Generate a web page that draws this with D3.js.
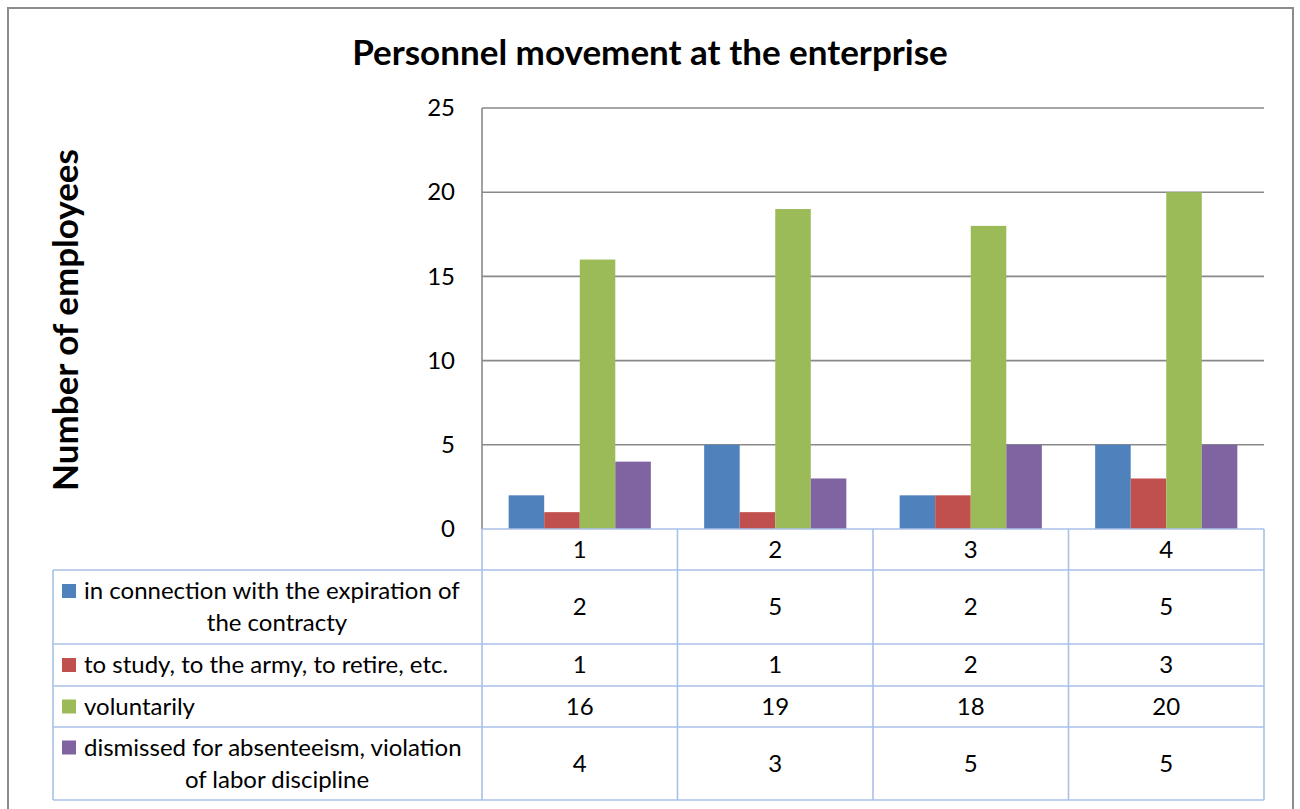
<!DOCTYPE html>
<html>
<head>
<meta charset="utf-8">
<script src="https://cdn.jsdelivr.net/npm/d3@7"></script>
<style>
  html, body { margin: 0; padding: 0; background: #fff; }
  svg { display: block; font-family: Lato, "Open Sans", sans-serif; }
</style>
</head>
<body>
<svg id="chart" width="1300" height="809"></svg>
<script>
// Periods shown along the x axis and in the table header
const categories = ["1", "2", "3", "4"];

// Reasons for leaving (legend / table row labels, already wrapped into lines)
const seriesLabels = [
  ["in connection with the expiration of", "the contracty"],
  ["to study, to the army, to retire, etc."],
  ["voluntarily"],
  ["dismissed for absenteeism, violation", "of labor discipline"]
];

// Number of employees per reason and period
const contractExpired = [2, 5, 2, 5];
const studyArmyRetire = [1, 1, 2, 3];
const voluntarily     = [16, 19, 18, 20];
const dismissed       = [4, 3, 5, 5];
const seriesValues = [contractExpired, studyArmyRetire, voluntarily, dismissed];

const seriesColors = ["#4F81BD", "#C0504D", "#9BBB59", "#8064A2"];
const yTicks = [0, 5, 10, 15, 20, 25];

const svg = d3.select("#chart");

// Plot frame
const plot = { left: 482, right: 1264, top: 108, bottom: 529 };
const tableLeft = 53;
// Row boundaries of the data table under the plot (header row first)
const rowEdges = [529, 570, 644, 686, 727, 800];

const gridColor = "#898989";
const tableColor = "#a9c0e8";

// Outer chart border (runs off the bottom edge)
svg.append("path")
  .attr("d", "M8,812 L8,8 L1293,8 L1293,812")
  .attr("fill", "none")
  .attr("stroke", "#8c8c8c")
  .attr("stroke-width", 2);

// Scales
const x = d3.scaleBand()
  .domain(categories)
  .range([plot.left, plot.right])
  .paddingInner(0)
  .paddingOuter(0);

const xInner = d3.scaleBand()
  .domain(d3.range(seriesValues.length))
  .range([0, x.bandwidth()])
  .paddingInner(0)
  .paddingOuter(0.75);

const y = d3.scaleLinear()
  .domain([0, 25])
  .range([plot.bottom, plot.top]);

// Horizontal gridlines
svg.append("g")
  .selectAll("line")
  .data(yTicks.filter(t => t > 0))
  .join("line")
  .attr("x1", plot.left)
  .attr("x2", plot.right)
  .attr("y1", d => y(d))
  .attr("y2", d => y(d))
  .attr("stroke", gridColor)
  .attr("stroke-width", 1.6);

// Y axis
const yAxis = d3.axisLeft(y)
  .tickValues(yTicks)
  .tickSize(0)
  .tickPadding(27);

const yG = svg.append("g")
  .attr("transform", `translate(${plot.left},0)`)
  .call(yAxis);
yG.select(".domain").remove();
yG.selectAll("text")
  .attr("font-family", "Lato, 'Open Sans', sans-serif")
  .attr("font-size", 24)
  .attr("fill", "#000");

svg.append("line")
  .attr("x1", plot.left).attr("x2", plot.left)
  .attr("y1", plot.top).attr("y2", plot.bottom)
  .attr("stroke", gridColor)
  .attr("stroke-width", 1.6);

// Bars
const groups = svg.append("g")
  .selectAll("g")
  .data(seriesValues)
  .join("g")
  .attr("fill", (d, i) => seriesColors[i]);

groups.each(function(values, si) {
  d3.select(this).selectAll("rect")
    .data(values)
    .join("rect")
    .attr("x", (v, ci) => x(categories[ci]) + xInner(si))
    .attr("width", xInner.bandwidth())
    .attr("y", v => y(v))
    .attr("height", v => y(0) - y(v));
});

// Data table -------------------------------------------------------------
const table = svg.append("g")
  .attr("stroke", tableColor)
  .attr("stroke-width", 1.6)
  .attr("fill", "none");

// Header row (categories) spans only the plot width
table.append("line")
  .attr("x1", plot.left).attr("x2", plot.right)
  .attr("y1", rowEdges[0]).attr("y2", rowEdges[0]);

// Remaining horizontal rules span the label column too
rowEdges.slice(1).forEach(yy => {
  table.append("line")
    .attr("x1", tableLeft).attr("x2", plot.right)
    .attr("y1", yy).attr("y2", yy);
});

// Vertical rules
const colEdges = categories.map(c => x(c)).concat([plot.right]);
colEdges.forEach(xx => {
  table.append("line")
    .attr("x1", xx).attr("x2", xx)
    .attr("y1", rowEdges[0]).attr("y2", rowEdges[rowEdges.length - 1]);
});
table.append("line")
  .attr("x1", tableLeft).attr("x2", tableLeft)
  .attr("y1", rowEdges[1]).attr("y2", rowEdges[rowEdges.length - 1]);

const textG = svg.append("g")
  .attr("font-size", 24)
  .attr("fill", "#000");

// Header: category labels
textG.selectAll("text.cat")
  .data(categories)
  .join("text")
  .attr("class", "cat")
  .attr("x", d => x(d) + x.bandwidth() / 2)
  .attr("y", (rowEdges[0] + rowEdges[1]) / 2)
  .attr("dy", "0.35em")
  .attr("text-anchor", "middle")
  .text(d => d);

// Value cells
seriesValues.forEach((values, si) => {
  const cy = (rowEdges[si + 1] + rowEdges[si + 2]) / 2;
  textG.selectAll(null)
    .data(values)
    .join("text")
    .attr("x", (v, ci) => x(categories[ci]) + x.bandwidth() / 2)
    .attr("y", cy)
    .attr("dy", "0.35em")
    .attr("text-anchor", "middle")
    .text(v => v);
});

// Row labels with legend keys
const keySize = 14;
const lineGap = 32;
seriesLabels.forEach((lines, si) => {
  const top = rowEdges[si + 1], bottom = rowEdges[si + 2];
  const cy = (top + bottom) / 2;
  const firstY = cy - (lines.length - 1) * lineGap / 2;
  const keyX = 62;
  svg.append("rect")
    .attr("x", keyX)
    .attr("y", firstY - keySize / 2)
    .attr("width", keySize)
    .attr("height", keySize)
    .attr("fill", seriesColors[si]);
  lines.forEach((ln, li) => {
    const t = textG.append("text")
      .attr("y", firstY + li * lineGap)
      .attr("dy", "0.35em")
      .text(ln);
    if (li === 0) {
      t.attr("x", keyX + keySize + 8);
    } else {
      t.attr("x", (keyX + plot.left) / 2 + 5).attr("text-anchor", "middle");
    }
  });
});

// Title
svg.append("text")
  .attr("x", 650)
  .attr("y", 53)
  .attr("dy", "0.35em")
  .attr("text-anchor", "middle")
  .attr("font-size", 35)
  .attr("font-weight", "bold")
  .text("Personnel movement at the enterprise");

// Y axis title
svg.append("text")
  .attr("transform", `translate(66,320) rotate(-90)`)
  .attr("dy", "0.35em")
  .attr("text-anchor", "middle")
  .attr("font-size", 35)
  .attr("font-weight", "bold")
  .text("Number of employees");
</script>
</body>
</html>
